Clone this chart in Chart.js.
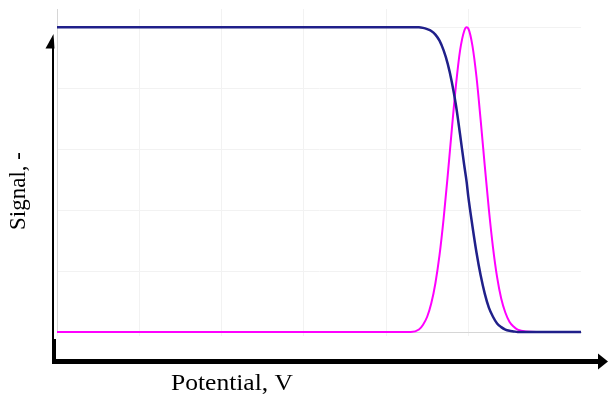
<!DOCTYPE html>
<html>
<head>
<meta charset="utf-8">
<script src="https://cdn.jsdelivr.net/npm/chart.js@4"></script>
<style>
  html, body { margin: 0; padding: 0; background: #fff; }
  #wrap { width: 608px; height: 396px; }
</style>
</head>
<body>
<div id="wrap"><canvas id="myChart" width="608" height="396"></canvas></div>
<script>
// values
const potential = [0, 1, 2, 3, 4, 4.3, 4.4, 4.45, 4.5, 4.55, 4.6, 4.65, 4.7, 4.75, 4.8, 4.85, 4.9, 4.95, 4.98, 5.0,
  5.05, 5.1, 5.15, 5.2, 5.25, 5.3, 5.35, 5.4, 5.45, 5.5, 5.55, 5.6, 5.7, 6.0, 6.37];
const signalDrop = [5, 5, 5, 5, 5, 5, 5, 4.99, 4.97, 4.94, 4.88, 4.78, 4.62, 4.4, 4.1, 3.72, 3.24, 2.74, 2.46, 2.22,
  1.74, 1.3, 0.93, 0.63, 0.4, 0.25, 0.14, 0.08, 0.04, 0.02, 0.01, 0, 0, 0, 0];
const signalPeak = [0, 0, 0, 0, 0, 0, 0.04, 0.12, 0.25, 0.47, 0.8, 1.26, 1.86, 2.57, 3.33, 4.05, 4.62, 4.94, 5.0, 4.98,
  4.7, 4.18, 3.48, 2.73, 2.01, 1.39, 0.9, 0.55, 0.32, 0.17, 0.09, 0.04, 0.01, 0, 0];
const xTitle = 'Potential, V';
const yTitle = 'Signal, -';

const toPoints = arr => arr.map((v, i) => ({ x: potential[i], y: v }));
const gridColor = ctx => (ctx.tick && Number.isInteger(ctx.tick.value)) ? '#f2f2f2' : 'rgba(0,0,0,0)';

// black arrows + axis titles
const arrowsAndTitles = {
  id: 'arrowsAndTitles',
  afterDraw(chart) {
    const c = chart.ctx;
    c.save();
    c.fillStyle = '#000';
    // y arrow shaft
    c.fillRect(52, 47, 2, 292);
    c.fillRect(52, 339, 4, 24);
    // y arrow head
    c.beginPath();
    c.moveTo(45.5, 48.5);
    c.lineTo(53.5, 34);
    c.lineTo(54.5, 48.5);
    c.closePath();
    c.fill();
    // x arrow shaft
    c.fillRect(52, 359, 548, 5);
    // x arrow head
    c.beginPath();
    c.moveTo(598, 353.5);
    c.lineTo(608, 361.5);
    c.lineTo(598, 369.5);
    c.closePath();
    c.fill();

    c.font = '23px "Liberation Serif", "Times New Roman", serif';
    c.textBaseline = 'alphabetic';
    c.textAlign = 'left';
    // x title, a bit stretched like the picture
    c.save();
    c.translate(171, 390);
    const w = c.measureText(xTitle).width;
    c.scale(122 / w, 1);
    c.fillText(xTitle, 0, 0);
    c.restore();
    // y title
    c.save();
    c.translate(25, 191);
    c.rotate(-Math.PI / 2);
    c.textAlign = 'center';
    c.fillText(yTitle, 0, 0);
    c.restore();
    c.restore();
  }
};

const data = {
  datasets: [{
    label: 'drop',
    data: toPoints(signalDrop),
    borderColor: '#20208a',
    borderWidth: 2.5,
    pointRadius: 0,
    cubicInterpolationMode: 'monotone',
    clip: false,
    fill: false
  }, {
    label: 'peak',
    data: toPoints(signalPeak),
    borderColor: '#ff00ff',
    borderWidth: 2,
    pointRadius: 0,
    cubicInterpolationMode: 'monotone',
    clip: false,
    fill: false
  }]
};

const config = {
  type: 'line',
  data: data,
  options: {
    responsive: false,
    animation: false,
    layout: { padding: { left: 57, right: 27, top: 9, bottom: 60 } },
    plugins: { legend: { display: false }, tooltip: { enabled: false } },
    scales: {
      x: {
        type: 'linear',
        min: 0,
        max: 6.37,
        ticks: { display: false, stepSize: 1 },
        grid: { color: gridColor, drawTicks: true, tickLength: 4 },
        border: { color: '#d6d6d6', width: 1 }
      },
      y: {
        min: 0,
        max: 5.3,
        ticks: { display: false, stepSize: 1 },
        grid: { color: gridColor, drawTicks: false },
        border: { color: '#d6d6d6', width: 1 }
      }
    }
  },
  plugins: [arrowsAndTitles]
};

const myChart = new Chart(document.getElementById('myChart'), config);
</script>
</body>
</html>
